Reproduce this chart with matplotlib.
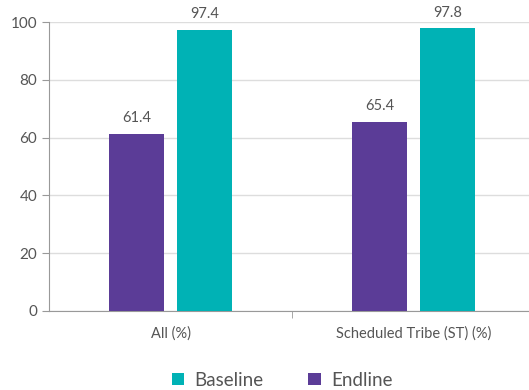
import matplotlib
matplotlib.use('Agg')
import matplotlib.pyplot as plt
import numpy as np

categories = ['All (%)', 'Scheduled Tribe (ST) (%)']
endline = [61.4, 65.4]
baseline = [97.4, 97.8]

purple = '#5b3c97'
teal = '#00b2b5'
txt = '#555555'

plt.rcParams['font.family'] = ['Lato', 'DejaVu Sans']

fig = plt.figure(figsize=(5.29, 3.9), dpi=100)
ax = fig.add_axes([49 / 529, (390 - 311) / 390, 486 / 529, 289 / 390])

x = np.arange(len(categories))
w = 0.225
off = 0.14
b1 = ax.bar(x - off, endline, w, color=purple, label='Endline', zorder=3)
b2 = ax.bar(x + off, baseline, w, color=teal, label='Baseline', zorder=3)

for bars, vals in [(b1, endline), (b2, baseline)]:
    for r, v in zip(bars, vals):
        ax.text(r.get_x() + r.get_width() / 2, v + 3, f'{v}', ha='center', va='bottom',
                fontsize=10.5, color=txt)

ax.set_xlim(-0.5, 1.5)
ax.set_ylim(0, 100)
ax.set_yticks(range(0, 101, 20))
ax.set_xticks(x)
ax.set_xticklabels(categories, fontsize=10.5, color=txt)
ax.set_xticks([0.5], minor=True)
ax.tick_params(axis='x', which='major', length=0, pad=11)
ax.tick_params(axis='x', which='minor', length=5, color='#999999')
ax.tick_params(axis='y', labelsize=11, colors=txt, length=5, color='#999999')
ax.grid(axis='y', color='#dddddd', linewidth=1, zorder=0)
for s in ['top', 'right']:
    ax.spines[s].set_visible(False)
for s in ['left', 'bottom']:
    ax.spines[s].set_color('#999999')

h, l = ax.get_legend_handles_labels()
fig.legend([h[1], h[0]], [l[1], l[0]], loc='center', bbox_to_anchor=(282 / 529, 10 / 390),
           ncol=2, frameon=False, fontsize=13.5, handlelength=0.65, handleheight=0.65,
           handletextpad=0.55, columnspacing=2.4, labelcolor=txt)

fig.savefig('out.png', dpi=100)
